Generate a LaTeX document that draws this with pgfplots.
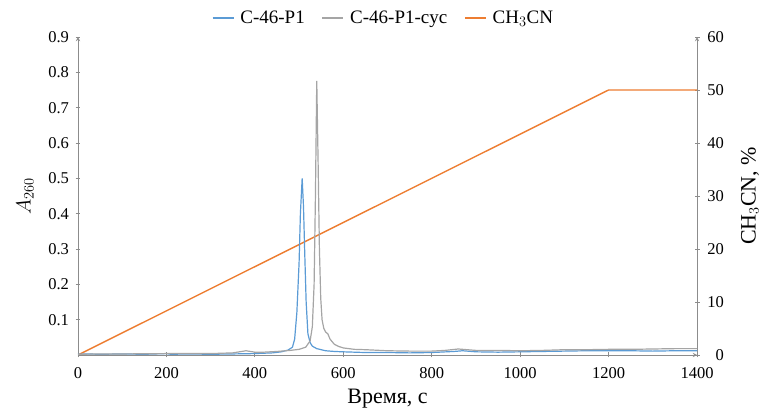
\documentclass[border=0pt]{standalone}
\usepackage{pgfplots}
\pgfplotsset{compat=1.18}
\usepackage{fontspec}
\setmainfont{Liberation Serif}
\definecolor{cblue}{HTML}{5B9BD5}
\definecolor{cgrey}{HTML}{A5A5A5}
\definecolor{corange}{HTML}{ED7D31}
\definecolor{axgrey}{HTML}{8C8C8C}
\begin{document}
\begin{tikzpicture}
\pgfplotsset{
  every axis/.append style={
    scale only axis, width=619pt, height=318pt,
    xmin=0, xmax=1400,
    /pgf/number format/assume math mode=true,
    /pgf/number format/1000 sep={},
    tick label style={font=\fontsize{16.5}{16.5}\selectfont},
    axis line style={axgrey, line width=0.9pt},
    tick style={axgrey, line width=0.8pt},
    tick align=inside,
    major tick length=5pt,
  }
}
\begin{axis}[
  at={(0,0)}, anchor=south west,
  axis x line=none,
  axis y line=right,
  ymin=0, ymax=60,
  ytick={0,10,...,60},
  yticklabel style={anchor=east, xshift=28pt},
  ylabel={CH$_3$CN, \%},
  ylabel style={at={(axis description cs:1.0856,0.5)}, anchor=center, rotate=0, font=\fontsize{22}{22}\selectfont},
]
\addplot[corange, line width=1.4pt] coordinates {(0,0) (1200,50) (1400,50)};
\end{axis}
\begin{axis}[
  at={(0,0)}, anchor=south west,
  axis x line=bottom,
  axis y line=left,
  ymin=0, ymax=0.9,
  ytick={0.1,0.2,...,0.9},
  xtick={0,200,...,1400},
  yticklabel style={/pgf/number format/fixed, /pgf/number format/fixed zerofill, /pgf/number format/precision=1, xshift=-3pt},
  xticklabel style={yshift=-6pt},
  ylabel={$A_{260}$},
  ylabel style={at={(axis description cs:-0.0856,0.5)}, anchor=center, font=\fontsize{22}{22}\selectfont},
  xlabel={Время, с},
  xlabel style={at={(axis description cs:0.5,-0.138)}, anchor=center, font=\fontsize{22}{22}\selectfont},
  legend columns=-1,
  legend style={draw=none, fill=none, at={(0.5,1)}, anchor=center, yshift=19pt, xshift=-4pt,
    font=\fontsize{19}{19}\selectfont,
    /tikz/every odd column/.append style={column sep=4pt},
    /tikz/every even column/.append style={column sep=15pt}},
  legend image code/.code={\draw[#1, line width=1.4pt] (0pt,0pt) -- (21pt,0pt);},
  legend cell align=left,
]
\addplot[cblue, line width=1.2pt] coordinates {
(0,0.002) (20,0.003) (50,0.002) (100,0.003) (150,0.002) (200,0.004) (210,0.002) (250,0.003) (300,0.002) (350,0.003) (400,0.004) (440,0.006) (460,0.009) (475,0.014) (485,0.022) (490,0.045) (495,0.12) (500,0.26) (503,0.40) (507,0.50) (510,0.42) (513,0.28) (516,0.15) (520,0.06) (525,0.035) (530,0.025) (540,0.018) (560,0.012) (580,0.010) (600,0.009) (650,0.007) (700,0.007) (750,0.006) (800,0.007) (850,0.010) (870,0.012) (900,0.009) (950,0.008) (1000,0.009) (1050,0.010) (1100,0.011) (1150,0.012) (1200,0.012) (1250,0.012) (1300,0.011) (1350,0.012) (1400,0.012)
};
\addlegendentry{C-46-P1}
\addplot[cgrey, line width=1.2pt] coordinates {
(0,0.002) (50,0.003) (100,0.003) (200,0.004) (300,0.004) (350,0.006) (380,0.012) (400,0.008) (420,0.008) (450,0.010) (480,0.013) (500,0.016) (515,0.022) (525,0.04) (530,0.08) (534,0.20) (537,0.45) (540,0.776) (543,0.55) (546,0.30) (549,0.16) (552,0.10) (556,0.075) (560,0.065) (565,0.06) (570,0.045) (580,0.03) (590,0.024) (600,0.02) (625,0.016) (650,0.015) (700,0.012) (750,0.011) (800,0.011) (830,0.013) (860,0.017) (880,0.015) (900,0.013) (950,0.013) (1000,0.012) (1050,0.013) (1100,0.015) (1150,0.015) (1200,0.016) (1250,0.016) (1300,0.017) (1350,0.018) (1400,0.018)
};
\addlegendentry{C-46-P1-cyc}
\addlegendimage{corange, line width=1.4pt}
\addlegendentry{CH$_3$CN}
\end{axis}
\pgfresetboundingbox
\path[use as bounding box] (-78pt,-56pt) rectangle (689pt,355pt);
\end{tikzpicture}
\end{document}
